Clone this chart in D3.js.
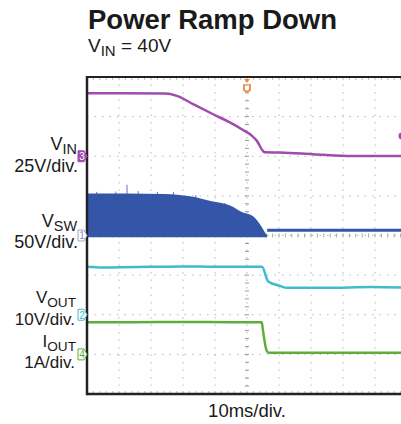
<!DOCTYPE html>
<html><head><meta charset="utf-8">
<script src="https://cdn.jsdelivr.net/npm/d3@7"></script>
<style>html,body{margin:0;padding:0;background:#fff;overflow:hidden}</style>
</head><body>
<svg id="chart" width="401" height="424"></svg>
<script>
// ---- data (time in ms, values in channel units) ----
const vinTime  = [0, 24.4, 28.1, 33.5, 39.4, 44.5, 48.75, 51.5, 53.1, 55.0, 55.6, 60.3, 70.6, 83.1, 100];
const vinVolts = [39.7, 39.6, 38.1, 32.5, 26.5, 21.5, 16.6, 13.0, 9.7, 3.3, 2.5, 2.3, 1.3, 0.1, 0.1];
const swTime   = [0, 24.4, 32.2, 39.4, 44.7, 48.75, 51.9, 54.7, 55.6, 56.3];
const swVolts  = [53, 52.5, 49.6, 42.9, 37.9, 29.0, 24.4, 10.1, 3.8, 0];
const swAfterTime  = [56.3, 100];
const swAfterVolts = [6.7, 6.7];
const spikeTime  = [3, 9, 12.5, 16, 22, 27, 34, 43];
const spikeVolts = [55, 55.5, 64, 56, 55, 55, 51, 41];
const voutTime  = [0, 5, 10, 20, 30, 40, 50, 54.7, 56.6, 60.3, 62.5, 75, 89, 100];
const voutVolts = [12.1, 11.9, 12.0, 12.1, 12.2, 12.1, 12.1, 12.1, 8.4, 7.3, 6.8, 6.8, 7.0, 6.8];
const ioutTime  = [0, 15, 30, 45, 54.6, 55.0, 56.1, 56.8, 75, 100];
const ioutAmps  = [0.81, 0.81, 0.82, 0.81, 0.81, 0.60, 0.10, 0.04, 0.04, 0.04];
const channelNames = ["VIN", "VSW", "VOUT", "IOUT"];
const channelScales = ["25V/div.", "50V/div.", "10V/div.", "1A/div."];
const channelIds = ["3", "1", "2", "4"];
const channelGround = [6, 4, 2, 1];      // divisions above the bottom
const channelPerDiv = [25, 50, 10, 1];
const timeDomain = [0, 100];
const divCount = [10, 8];

// ---- layout ----
const svg = d3.select("#chart");
const pL = 87, pT = 77, pB = 394, pR = 407;
const x = d3.scaleLinear().domain(timeDomain).range([pL, pR]);
const yDiv = d3.scaleLinear().domain([0, divCount[1]]).range([pB, pT]);
const yCh = (i, v) => yDiv(channelGround[i] + v / channelPerDiv[i]);
const colors = ["#a24ab0", "#3556a8", "#3fbccc", "#5fae3a"];
const font = "'Liberation Sans', Arial, Helvetica, sans-serif";

// grid
const g = svg.append("g");
const xDivScale = d3.scaleLinear().domain([0, divCount[0]]).range([pL, pR]);
d3.range(1, divCount[0]).forEach(d => {
  g.append("line").attr("x1", xDivScale(d)).attr("x2", xDivScale(d)).attr("y1", pT).attr("y2", pB)
   .attr("stroke", "#b8b8b8").attr("stroke-width", 1).attr("stroke-dasharray", "1.5,6");
});
d3.range(1, divCount[1]).forEach(d => {
  g.append("line").attr("y1", yDiv(d)).attr("y2", yDiv(d)).attr("x1", pL).attr("x2", pR)
   .attr("stroke", "#b8b8b8").attr("stroke-width", 1).attr("stroke-dasharray", "1.5,6");
});
const minorX = d3.range(0, divCount[0] * 5 + 1).map(i => xDivScale(i / 5));
const minorY = d3.range(0, divCount[1] * 5 + 1).map(i => yDiv(i / 5));
minorY.forEach(yy => {
  g.append("line").attr("x1", xDivScale(5) - 2).attr("x2", xDivScale(5) + 2).attr("y1", yy).attr("y2", yy).attr("stroke", "#999");
});
minorX.forEach(xx => {
  g.append("line").attr("x1", xx).attr("x2", xx).attr("y1", yDiv(4) - 2).attr("y2", yDiv(4) + 2).attr("stroke", "#aaa");
  g.append("line").attr("x1", xx).attr("x2", xx).attr("y1", pT).attr("y2", pT + 3).attr("stroke", "#bbb");
  g.append("line").attr("x1", xx).attr("x2", xx).attr("y1", pB - 3).attr("y2", pB).attr("stroke", "#bbb");
});

// traces
const line = (ts, vs, i) => d3.line().x((d, k) => x(ts[k])).y((d, k) => yCh(i, vs[k])).curve(d3.curveMonotoneX)(vs);

const swArea = d3.area().x((d, k) => x(swTime[k])).y0(yCh(1, 0)).y1((d, k) => yCh(1, swVolts[k])).curve(d3.curveMonotoneX);
svg.append("path").attr("d", swArea(swVolts)).attr("fill", colors[1]);
spikeTime.forEach((t, k) => {
  svg.append("line").attr("x1", x(t)).attr("x2", x(t)).attr("y1", yCh(1, 0)).attr("y2", yCh(1, spikeVolts[k]))
    .attr("stroke", colors[1]).attr("stroke-width", 0.8);
});
svg.append("line").attr("x1", x(0)).attr("x2", x(swTime[swTime.length - 1])).attr("y1", yCh(1, 0) + 0.5).attr("y2", yCh(1, 0) + 0.5)
  .attr("stroke", colors[1]).attr("stroke-width", 2.5);
svg.append("path").attr("d", line(swAfterTime, swAfterVolts, 1)).attr("fill", "none").attr("stroke", colors[1]).attr("stroke-width", 3);

svg.append("path").attr("d", line(vinTime, vinVolts, 0)).attr("fill", "none").attr("stroke", colors[0]).attr("stroke-width", 2.5);
svg.append("path").attr("d", line(voutTime, voutVolts, 2)).attr("fill", "none").attr("stroke", colors[2]).attr("stroke-width", 2.5);
svg.append("path").attr("d", line(ioutTime, ioutAmps, 3)).attr("fill", "none").attr("stroke", colors[3]).attr("stroke-width", 2.5);

// frame
svg.append("line").attr("x1", pL).attr("x2", pR).attr("y1", pT).attr("y2", pT).attr("stroke", "#222").attr("stroke-width", 2);
svg.append("line").attr("x1", pL).attr("x2", pR).attr("y1", pB).attr("y2", pB).attr("stroke", "#222").attr("stroke-width", 2.5);
svg.append("line").attr("x1", pL).attr("x2", pL).attr("y1", pT - 1).attr("y2", pB + 1.2).attr("stroke", "#222").attr("stroke-width", 2.5);

// trigger marker
const tx = x(50);
svg.append("path").attr("d", `M${tx - 3},${pT + 2} L${tx + 3},${pT + 2} L${tx},${pT + 6} Z`).attr("fill", "#f08a3c");
svg.append("path").attr("d", `M${tx - 3},${pT + 7} L${tx - 3},${pT + 13} Q${tx},${pT + 16} ${tx + 3},${pT + 13} L${tx + 3},${pT + 7}`)
  .attr("fill", "none").attr("stroke", "#f08a3c").attr("stroke-width", 1.8);
svg.append("circle").attr("cx", 402).attr("cy", 136).attr("r", 3.5).attr("fill", colors[0]);

// channel markers
const markerFill = [colors[0], "#fff", "#fff", "#fff"];
const markerStroke = [colors[0], "#9aa6c8", colors[2], colors[3]];
const markerText = ["#fff", "#7f8fb8", colors[2], colors[3]];
channelIds.forEach((id, i) => {
  const yy = yCh(i, 0);
  svg.append("path").attr("d", `M${pL - 9},${yy - 5.5} L${pL - 3},${yy - 5.5} L${pL},${yy} L${pL - 3},${yy + 5.5} L${pL - 9},${yy + 5.5} Z`)
    .attr("fill", markerFill[i]).attr("stroke", markerStroke[i]).attr("stroke-width", 1);
  svg.append("text").attr("x", pL - 5).attr("y", yy + 3.8).attr("text-anchor", "middle")
    .attr("font-family", font).attr("font-size", 10).attr("fill", markerText[i]).text(id);
});

// channel labels
const labelSize = [18, 18, 17, 17];
const labelRight = [77, 77, 76, 76];
const nameBase = [150, 227, 303, 347];
const scaleRight = [78, 78, 75, 75];
const scaleBase = [172, 248, 325, 368];
channelNames.forEach((n, i) => {
  const t = svg.append("text").attr("x", labelRight[i]).attr("y", nameBase[i]).attr("text-anchor", "end")
    .attr("font-family", font).attr("font-size", labelSize[i]).attr("fill", "#1a1a1a");
  t.append("tspan").text(n[0]);
  t.append("tspan").attr("dy", 3.5).attr("font-size", labelSize[i] * 0.8).text(n.slice(1));
  svg.append("text").attr("x", scaleRight[i]).attr("y", scaleBase[i]).attr("text-anchor", "end")
    .attr("font-family", font).attr("font-size", labelSize[i]).attr("fill", "#1a1a1a").text(channelScales[i]);
});

// titles
svg.append("text").attr("x", 88).attr("y", 29).attr("font-family", font).attr("font-weight", "bold")
  .attr("font-size", 27.5).attr("fill", "#1a1a1a").text("Power Ramp Down");
const sub = svg.append("text").attr("x", 88).attr("y", 52).attr("font-family", font).attr("font-size", 19).attr("fill", "#1a1a1a");
sub.append("tspan").text("V");
sub.append("tspan").attr("dy", 4).attr("font-size", 15).text("IN");
sub.append("tspan").attr("dy", -4).text(" = 40V");
svg.append("text").attr("x", 247).attr("y", 417).attr("text-anchor", "middle").attr("font-family", font)
  .attr("font-size", 18.5).attr("fill", "#1a1a1a").text("10ms/div.");
</script>
</body></html>
